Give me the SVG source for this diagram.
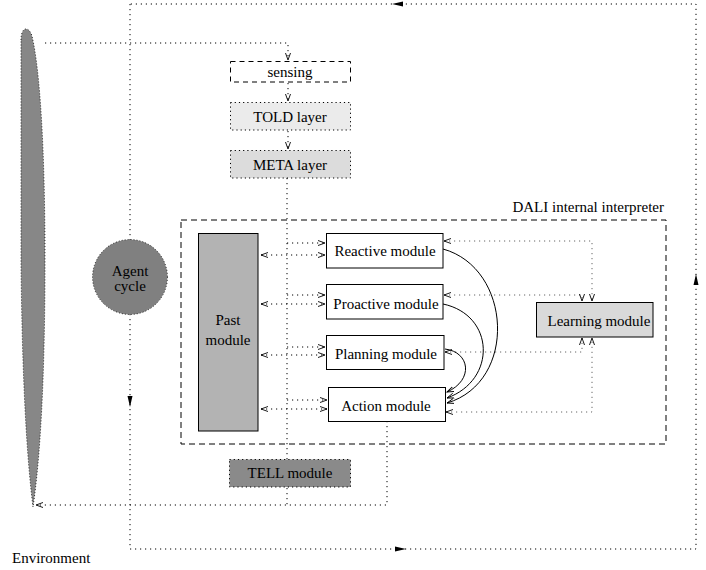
<svg xmlns="http://www.w3.org/2000/svg" width="706" height="570" viewBox="0 0 706 570">
<style>
text{font-family:"Liberation Serif","Times New Roman",serif;font-size:15px;fill:#000}
.c{text-anchor:middle}
.dot{fill:none;stroke:#000;stroke-width:1;stroke-dasharray:1.2 3.8}
.dotg{fill:none;stroke:#666;stroke-width:1;stroke-dasharray:1.2 3.8}
.sol{fill:none;stroke:#000;stroke-width:1}
.box{stroke:#000;stroke-width:1}
.dbox{stroke:#000;stroke-width:1;stroke-dasharray:1.2 3}
</style>
<defs>
<marker id="oa" markerWidth="9" markerHeight="8" refX="7" refY="4" orient="auto-start-reverse" markerUnits="userSpaceOnUse">
<path d="M0,1.5 L7,4 L0,6.5" fill="none" stroke="#000" stroke-width="0.9"/>
</marker>
</defs>
<g id="connectors">
<!-- outer agent loop -->
<path class="dot" d="M130,4 V549 H696 V4 Z"/>
<polygon points="392,4 403,1.5 403,6.5" fill="#000"/>
<polygon points="696,274 693.5,285 698.5,285" fill="#000"/>
<polygon points="406,549 395,546.5 395,551.5" fill="#000"/>
<polygon points="130,407 127.5,396 132.5,396" fill="#000"/>
<!-- environment to sensing -->
<path class="dot" d="M45,43 H288 V60" marker-end="url(#oa)"/>
<path class="dot" d="M288,83 V101" marker-end="url(#oa)"/>
<path class="dot" d="M288,131 V149" marker-end="url(#oa)"/>
<!-- meta down through interpreter -->
<path class="dot" d="M287,178 V505"/>
<!-- action to environment -->
<path class="dot" d="M387,421 V505 H36" marker-end="url(#oa)"/>
<!-- past <-> modules -->
<path class="dot" d="M287,243 H325" marker-end="url(#oa)"/>
<path class="dot" d="M261,255 H325" marker-start="url(#oa)" marker-end="url(#oa)"/>
<path class="dot" d="M287,295 H325" marker-end="url(#oa)"/>
<path class="dot" d="M261,304 H325" marker-start="url(#oa)" marker-end="url(#oa)"/>
<path class="dot" d="M287,347 H325" marker-end="url(#oa)"/>
<path class="dot" d="M261,355 H325" marker-start="url(#oa)" marker-end="url(#oa)"/>
<path class="dot" d="M287,400 H327" marker-end="url(#oa)"/>
<path class="dot" d="M261,409 H327" marker-start="url(#oa)" marker-end="url(#oa)"/>
<!-- modules <-> learning -->
<path class="dotg" d="M444,241 H592 V301" marker-start="url(#oa)" marker-end="url(#oa)"/>
<path class="dotg" d="M444,295 H582 V301" marker-start="url(#oa)" marker-end="url(#oa)"/>
<path class="dotg" d="M445,352 H582 V338" marker-start="url(#oa)" marker-end="url(#oa)"/>
<path class="dotg" d="M446,412 H592 V338" marker-start="url(#oa)" marker-end="url(#oa)"/>
<!-- solid curves to action -->
<path class="sol" d="M443,249 C512,268 518,382 447,403" marker-end="url(#oa)"/>
<path class="sol" d="M443,304 C495,315 497,380 447,398" marker-end="url(#oa)"/>
<path class="sol" d="M445,349 C470,352 474,380 447,392" marker-end="url(#oa)"/>
</g>
<g id="environment">
<path d="M21,40 C21,26 29,26 32,36 C40,70 45,150 45,260 C45,380 40,460 33,507 C27,460 22,380 21,260 Z" fill="#878787" stroke="#000" stroke-width="0.8" stroke-dasharray="1 2"/>
<text x="12" y="563">Environment</text>
</g>
<g id="agent-cycle">
<circle cx="130" cy="277" r="37.5" fill="#808080" stroke="#000" stroke-width="0.8" stroke-dasharray="1 2"/>
<text class="c" x="130" y="276">Agent</text>
<text class="c" x="130" y="291">cycle</text>
</g>
<g id="sensing">
<rect x="230.5" y="61.5" width="120" height="20.5" fill="#fff" stroke="#000" stroke-width="1" stroke-dasharray="5 4"/>
<text class="c" x="290" y="77">sensing</text>
</g>
<g id="told-layer">
<rect x="230.5" y="102.5" width="120" height="27.5" fill="#ebebeb" class="dbox"/>
<text class="c" x="290" y="122">TOLD layer</text>
</g>
<g id="meta-layer">
<rect x="230.5" y="150.5" width="120" height="27.5" fill="#dcdcdc" class="dbox"/>
<text class="c" x="290" y="170">META layer</text>
</g>
<g id="dali-interpreter">
<rect x="181" y="220" width="485" height="224" fill="none" stroke="#000" stroke-width="1" stroke-dasharray="6 4"/>
<text x="664" y="212" text-anchor="end">DALI internal interpreter</text>
</g>
<g id="past-module">
<rect x="198.5" y="233.5" width="59.5" height="197.5" fill="#b3b3b3" class="box"/>
<text class="c" x="228" y="325">Past</text>
<text class="c" x="228" y="345">module</text>
</g>
<g id="reactive-module">
<rect x="326.5" y="233.5" width="116.5" height="34.5" fill="#fff" class="box"/>
<text class="c" x="385" y="256">Reactive module</text>
</g>
<g id="proactive-module">
<rect x="326.5" y="284.5" width="116.5" height="34.5" fill="#fff" class="box"/>
<text class="c" x="386" y="309">Proactive module</text>
</g>
<g id="planning-module">
<rect x="326.5" y="335.5" width="117.5" height="34" fill="#fff" class="box"/>
<text class="c" x="386" y="359">Planning module</text>
</g>
<g id="action-module">
<rect x="328.5" y="387.5" width="117" height="34" fill="#fff" class="box"/>
<text class="c" x="386" y="411">Action module</text>
</g>
<g id="learning-module">
<rect x="536.5" y="302.5" width="116.5" height="34.5" fill="#d9d9d9" class="box"/>
<text class="c" x="599" y="326">Learning module</text>
</g>
<g id="tell-module">
<rect x="229.5" y="459.5" width="121" height="27.5" fill="#8a8a8a" class="dbox"/>
<text class="c" x="290" y="478">TELL module</text>
</g>
</svg>
